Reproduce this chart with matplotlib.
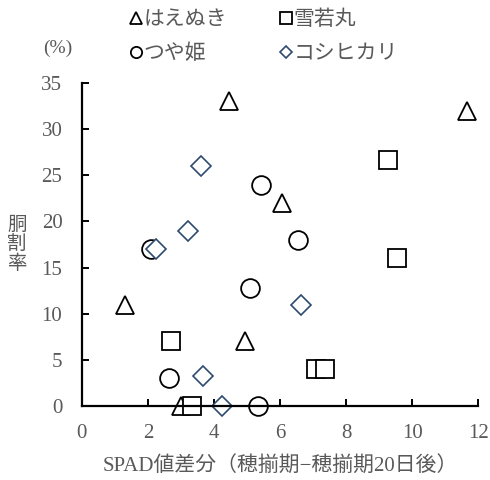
import matplotlib
matplotlib.use('Agg')
import matplotlib.pyplot as plt

# SPAD値差分と胴割率（品種別）
hae_x = [4.45, 11.65, 6.05, 1.3, 4.95, 3.0]
hae_y = [33, 32, 22, 11, 7, 0]

yuki_x = [9.28, 9.53, 7.08, 7.35, 2.7, 3.35]
yuki_y = [26.7, 16, 4, 4, 7, 0]

tsuya_x = [2.1, 5.42, 6.55, 5.1, 2.65, 5.33]
tsuya_y = [17, 24, 18, 12.8, 3, 0]

koshi_x = [3.62, 3.22, 2.24, 3.67, 4.23, 6.64]
koshi_y = [26, 19, 17, 3.3, 0, 11]

GRAY = '#595959'
NAVY = '#2E4A6E'
FONTS = ['Liberation Serif', 'Noto Sans CJK JP']

fig = plt.figure(figsize=(4.9, 4.8), dpi=100)
ax = fig.add_axes([0.167, 0.154, 0.809, 0.673])

ms = 13.5
h1, = ax.plot(hae_x, hae_y, ls='none', marker='^', ms=ms, mfc='white', mec='black', mew=1.3, clip_on=False)
h2, = ax.plot(yuki_x, yuki_y, ls='none', marker='s', ms=ms, mfc='white', mec='black', mew=1.3, clip_on=False)
h3, = ax.plot(tsuya_x, tsuya_y, ls='none', marker='o', ms=ms, mfc='white', mec='black', mew=1.3, clip_on=False)
h4, = ax.plot(koshi_x, koshi_y, ls='none', marker='D', ms=ms * 0.72, mfc='white', mec=NAVY, mew=1.2, clip_on=False)

ax.set_xlim(0, 12)
ax.set_ylim(0, 35)
ax.set_xticks(range(0, 13, 2))
ax.set_yticks(range(0, 36, 5))

for side in ['top', 'right']:
    ax.spines[side].set_visible(False)
for side in ['left', 'bottom']:
    ax.spines[side].set_linewidth(1.6)
ax.tick_params(direction='in', length=5, width=1.4, labelsize=15, labelcolor=GRAY)
ax.tick_params(axis='y', pad=14)
ax.tick_params(axis='x', pad=13)
for lab in ax.get_xticklabels() + ax.get_yticklabels():
    lab.set_family(FONTS)

ax.set_xlabel('SPAD値差分（穂揃期−穂揃期20日後）', fontsize=15, color=GRAY, family=FONTS, labelpad=10)
fig.text(0.035, 0.49, '胴\n割\n率', fontsize=14, color=GRAY, family=FONTS,
         ha='center', va='center', linespacing=1.1)
fig.text(0.088, 0.90, '(%)', fontsize=14, color=GRAY, family=FONTS, ha='left', va='center')

leg = fig.legend([h1, h3, h2, h4], ['はえぬき', 'つや姫', '雪若丸', 'コシヒカリ'],
                 ncol=2, frameon=False, loc='center', bbox_to_anchor=(0.54, 0.922),
                 markerscale=0.6, handlelength=0.45, handletextpad=0.15,
                 columnspacing=2.6, labelspacing=0.7,
                 prop={'family': FONTS, 'size': 15})
for t in leg.get_texts():
    t.set_color(GRAY)

fig.savefig('out.png', dpi=100)
